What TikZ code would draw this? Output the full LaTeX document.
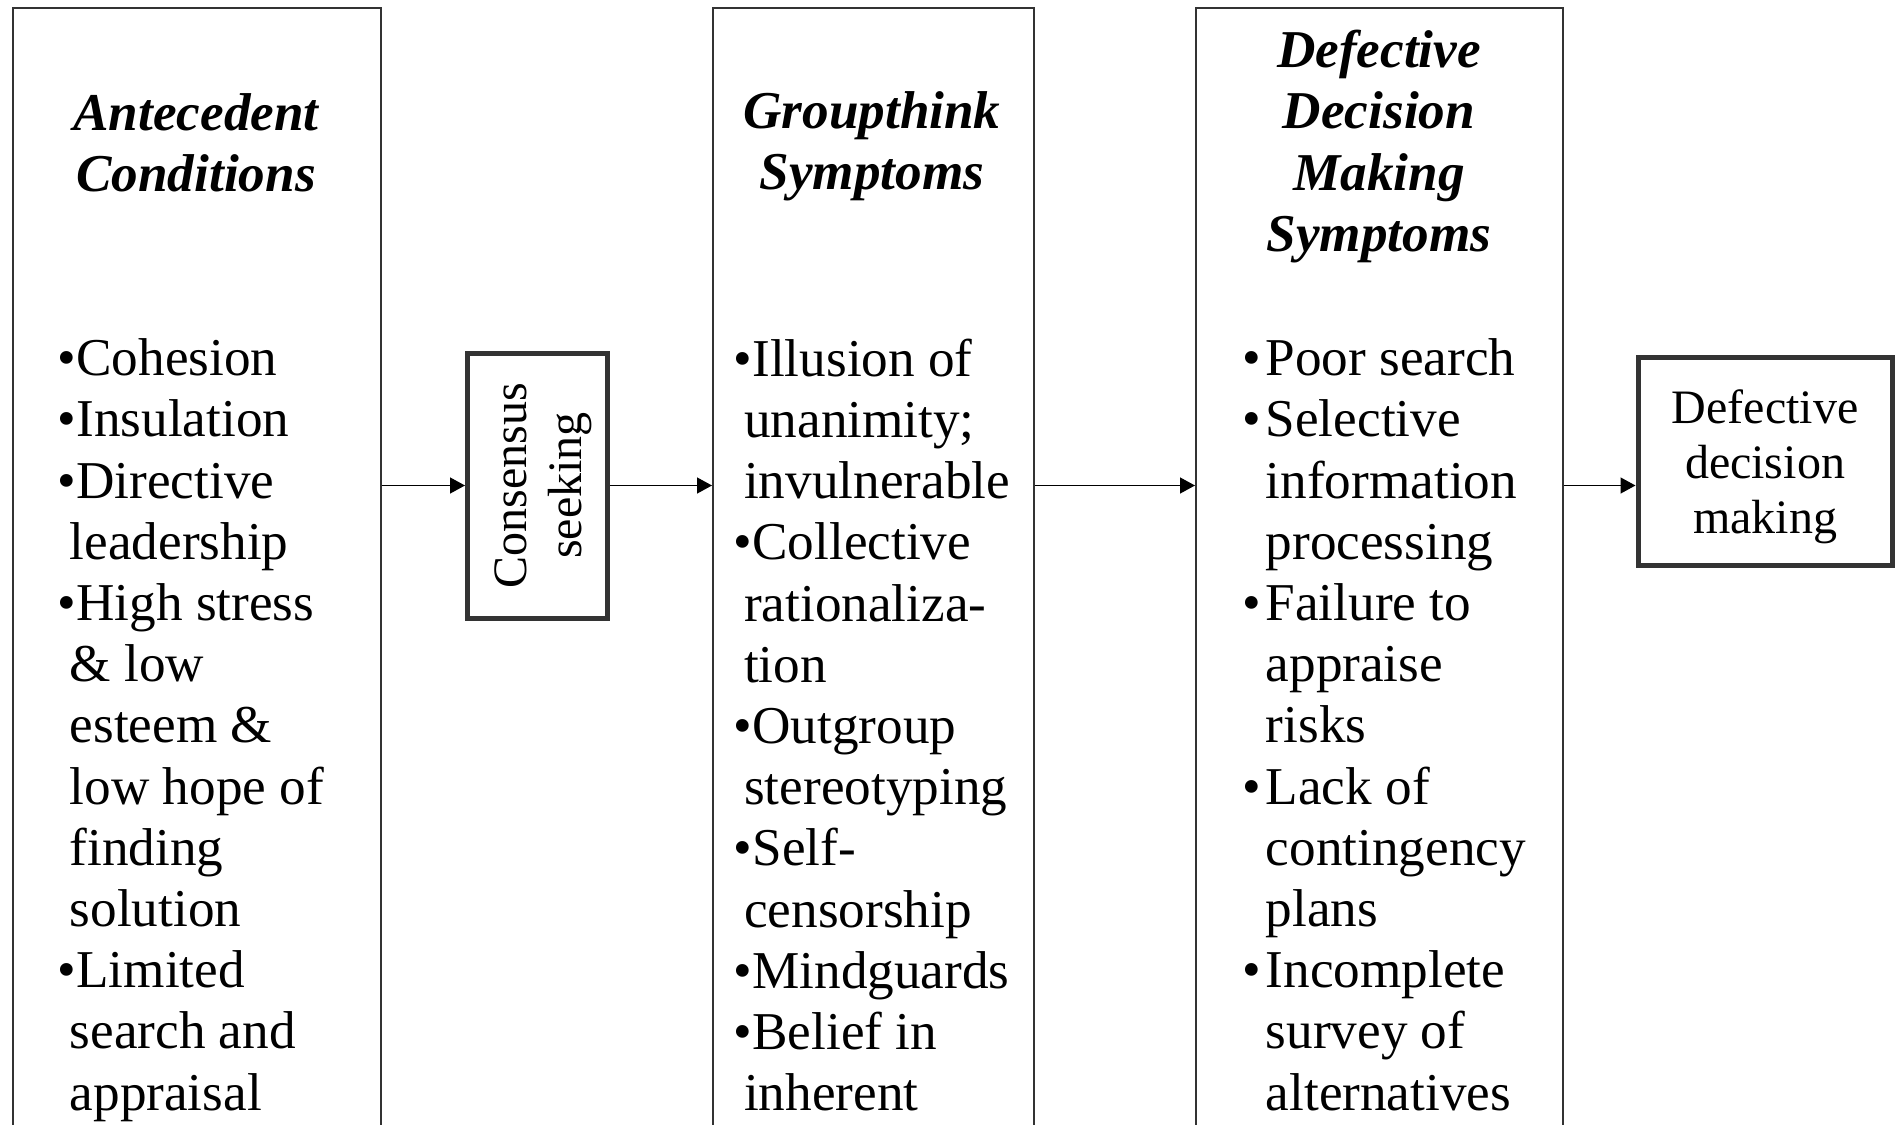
\documentclass[tikz,border=0pt]{standalone}
\usepackage{fontspec}
\setmainfont{Liberation Serif}
\usetikzlibrary{arrows.meta}

\definecolor{boxgray}{HTML}{333333}
\newcommand{\dbul}{\makebox[5.75pt][l]{•}}
\newcommand{\dind}{\hspace*{5.75pt}}

\tikzset{
  bigbox/.style={draw=boxgray, line width=0.5pt, anchor=north west, minimum height=300pt, inner sep=0pt},
  smallbox/.style={draw=boxgray, line width=1.25pt, inner sep=0pt},
  boxtxt/.style={align=center, inner sep=0pt, font=\fontsize{12}{13.75}\selectfont},
  headtxt/.style={align=center, inner sep=0pt, font=\fontsize{13.3}{15.3}\selectfont\bfseries\itshape},
  listtxt/.style={align=left, inner sep=0pt, anchor=north west, font=\fontsize{13.3}{15.3}\selectfont},
  flow/.style={-{Triangle[length=3.75pt,width=4pt]}, line width=0.35pt}
}

\begin{document}
\begin{tikzpicture}[x=0.25pt, y=0.25pt]
        \useasboundingbox (0,0) rectangle (1900,-1125);
        % the three columns (run off the bottom of the page)
        \node[bigbox, minimum width=92pt] (ante) at (12,-7) {};
        \node[bigbox, minimum width=80.25pt] (group) at (712,-7) {};
        \node[bigbox, minimum width=91.75pt] (defect) at (1195,-7) {};
        % small boxes
        \node[smallbox, minimum width=35pt, minimum height=66.25pt] (cons) at (537.5,-485.5) {};
        \node[boxtxt, rotate=90] (const) at ([xshift=1.5pt]cons.center) {Consensus\\seeking};
        \node[smallbox, minimum width=63.5pt, minimum height=52pt] (final) at (1765,-461) {};
        \node[boxtxt] (finalt) at ([yshift=-1.4pt]final.center) {Defective\\decision\\making};
        % headings
        \node[headtxt] (anteh) at (196,-143) {Antecedent\\Conditions};
        \node[headtxt] (grouph) at (872,-146.6) {Groupthink\\Symptoms};
        \node[headtxt] (defecth) at (1379,-146.6) {Defective\\Decision\\Making\\Symptoms};
        % lists
        \node[listtxt] (antel) at (57,-338) {•Cohesion\\•Insulation\\•Directive\\\hspace*{3pt}leadership\\•High stress\\\hspace*{3pt}\& low\\\hspace*{3pt}esteem \&\\\hspace*{3pt}low hope of\\\hspace*{3pt}finding\\\hspace*{3pt}solution\\•Limited\\\hspace*{3pt}search and\\\hspace*{3pt}appraisal};
        \node[listtxt] (groupl) at (733,-338) {•Illusion of\\\hspace*{2.6pt}unanimity;\\\hspace*{2.6pt}invulnerable\\•Collective\\\hspace*{2.6pt}rationaliza-\\\hspace*{2.6pt}tion\\•Outgroup\\\hspace*{2.6pt}stereotyping\\•Self-\\\hspace*{2.6pt}censorship\\•Mindguards\\•Belief in\\\hspace*{2.6pt}inherent};
        \node[listtxt] (defectl) at (1242,-338) {\dbul Poor search\\\dbul Selective\\\dind information\\\dind processing\\\dbul Failure to\\\dind appraise\\\dind risks\\\dbul Lack of\\\dind contingency\\\dind plans\\\dbul Incomplete\\\dind survey of\\\dind alternatives};
        % arrows
        \draw[flow] (ante.east |- cons.west) -- (cons.west);
        \draw[flow] (cons.east) -- (group.west |- cons.east);
        \draw[flow] (group.east |- cons.east) -- (defect.west |- cons.east);
        \draw[flow] (defect.east |- cons.east) -- (final.west |- cons.east);
\end{tikzpicture}
\end{document}
